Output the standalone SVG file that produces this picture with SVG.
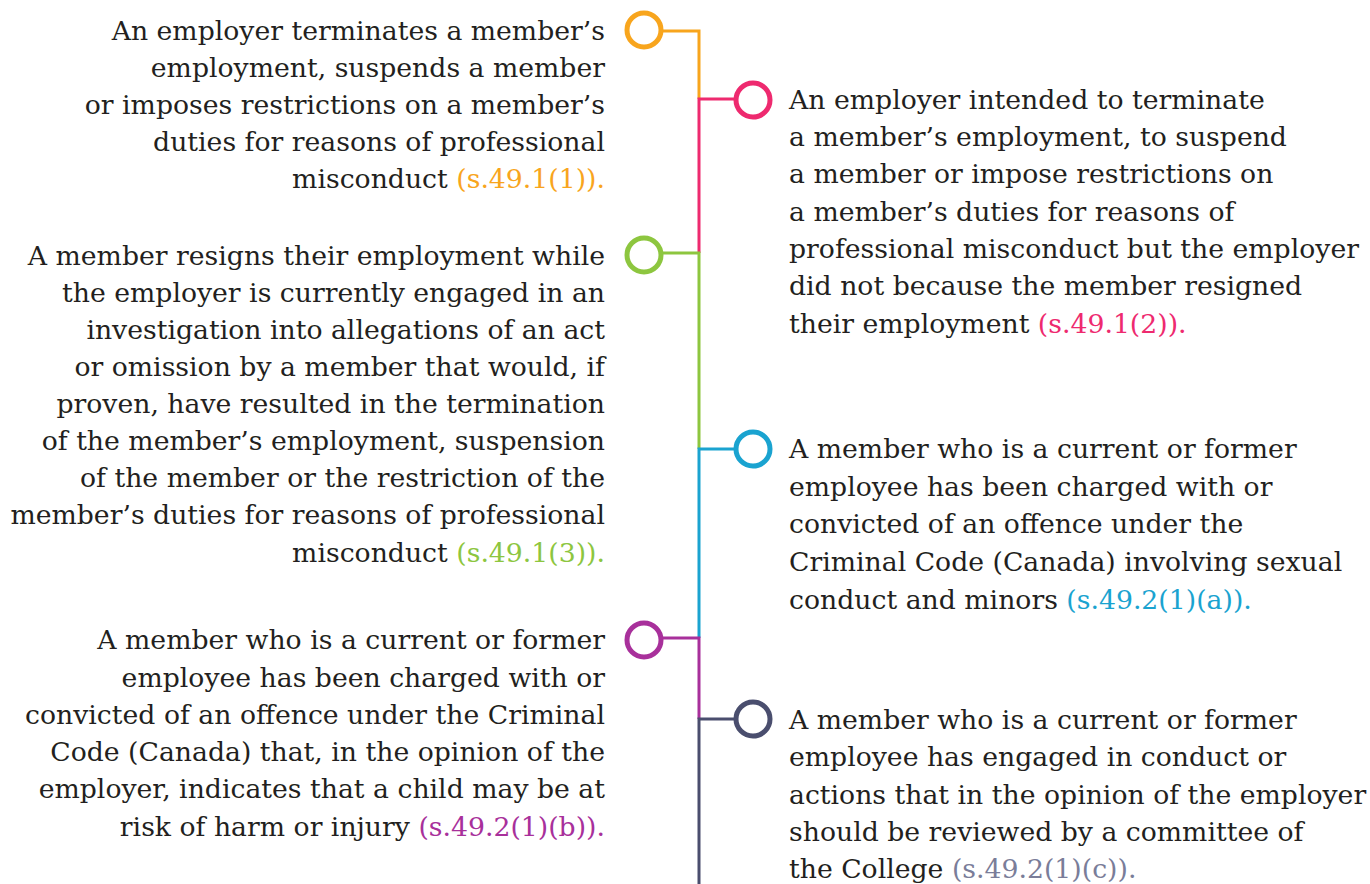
<svg xmlns="http://www.w3.org/2000/svg" width="1370" height="884" viewBox="0 0 1370 884">
<style>
.t{font-family:"DejaVu Serif","Liberation Serif",serif;font-size:26.7px;fill:#231f20}
.l{text-anchor:end}
.ring{fill:none;stroke-width:5}
.ln{fill:none;stroke-width:3}
</style>
<rect width="1370" height="884" fill="#fff"/>
<g id="connectors">
<path class="ln" stroke="#f8a51d" d="M663 31H699V99"/>
<path class="ln" stroke="#ee2a6f" d="M734 99H699V253"/>
<path class="ln" stroke="#8dc63f" d="M663 253H699V449"/>
<path class="ln" stroke="#1aa3d0" d="M734 449H699V638"/>
<path class="ln" stroke="#a8309b" d="M663 638H699V719"/>
<path class="ln" stroke="#4a4e6e" d="M734 719H699V884"/>
</g>
<g id="n1">
<circle class="ring" cx="644" cy="30" r="17" stroke="#f8a51d"/>
<text class="t l"><tspan x="605" y="40">An employer terminates a member’s</tspan><tspan x="605" y="77">employment, suspends a member</tspan><tspan x="605" y="114">or imposes restrictions on a member’s</tspan><tspan x="605" y="151">duties for reasons of professional</tspan><tspan x="605" y="188">misconduct <tspan fill="#f8a51d">(s.49.1(1)).</tspan></tspan></text>
</g>
<g id="n2">
<circle class="ring" cx="753" cy="100" r="17" stroke="#ee2a6f"/>
<text class="t"><tspan x="789" y="109">An employer intended to terminate</tspan><tspan x="789" y="146">a member’s employment, to suspend</tspan><tspan x="789" y="183">a member or impose restrictions on</tspan><tspan x="789" y="221">a member’s duties for reasons of</tspan><tspan x="789" y="258">professional misconduct but the employer</tspan><tspan x="789" y="295">did not because the member resigned</tspan><tspan x="789" y="333">their employment <tspan fill="#ee2a6f">(s.49.1(2)).</tspan></tspan></text>
</g>
<g id="n3">
<circle class="ring" cx="644" cy="255" r="17" stroke="#8dc63f"/>
<text class="t l"><tspan x="605" y="265">A member resigns their employment while</tspan><tspan x="605" y="302">the employer is currently engaged in an</tspan><tspan x="605" y="339">investigation into allegations of an act</tspan><tspan x="605" y="376">or omission by a member that would, if</tspan><tspan x="605" y="413">proven, have resulted in the termination</tspan><tspan x="605" y="450">of the member’s employment, suspension</tspan><tspan x="605" y="487">of the member or the restriction of the</tspan><tspan x="605" y="524">member’s duties for reasons of professional</tspan><tspan x="605" y="562">misconduct <tspan fill="#8dc63f">(s.49.1(3)).</tspan></tspan></text>
</g>
<g id="n4">
<circle class="ring" cx="753" cy="449" r="17" stroke="#1aa3d0"/>
<text class="t"><tspan x="789" y="458">A member who is a current or former</tspan><tspan x="789" y="496">employee has been charged with or</tspan><tspan x="789" y="533">convicted of an offence under the</tspan><tspan x="789" y="571">Criminal Code (Canada) involving sexual</tspan><tspan x="789" y="609">conduct and minors <tspan fill="#1aa3d0">(s.49.2(1)(a)).</tspan></tspan></text>
</g>
<g id="n5">
<circle class="ring" cx="644" cy="640" r="17" stroke="#a8309b"/>
<text class="t l"><tspan x="605" y="649">A member who is a current or former</tspan><tspan x="605" y="687">employee has been charged with or</tspan><tspan x="605" y="724">convicted of an offence under the Criminal</tspan><tspan x="605" y="761">Code (Canada) that, in the opinion of the</tspan><tspan x="605" y="798">employer, indicates that a child may be at</tspan><tspan x="605" y="836">risk of harm or injury <tspan fill="#a8309b">(s.49.2(1)(b)).</tspan></tspan></text>
</g>
<g id="n6">
<circle class="ring" cx="753" cy="719" r="17" stroke="#4a4e6e"/>
<text class="t"><tspan x="789" y="729">A member who is a current or former</tspan><tspan x="789" y="766">employee has engaged in conduct or</tspan><tspan x="789" y="804">actions that in the opinion of the employer</tspan><tspan x="789" y="841">should be reviewed by a committee of</tspan><tspan x="789" y="878">the College <tspan fill="#7a7d99">(s.49.2(1)(c)).</tspan></tspan></text>
</g>
</svg>
